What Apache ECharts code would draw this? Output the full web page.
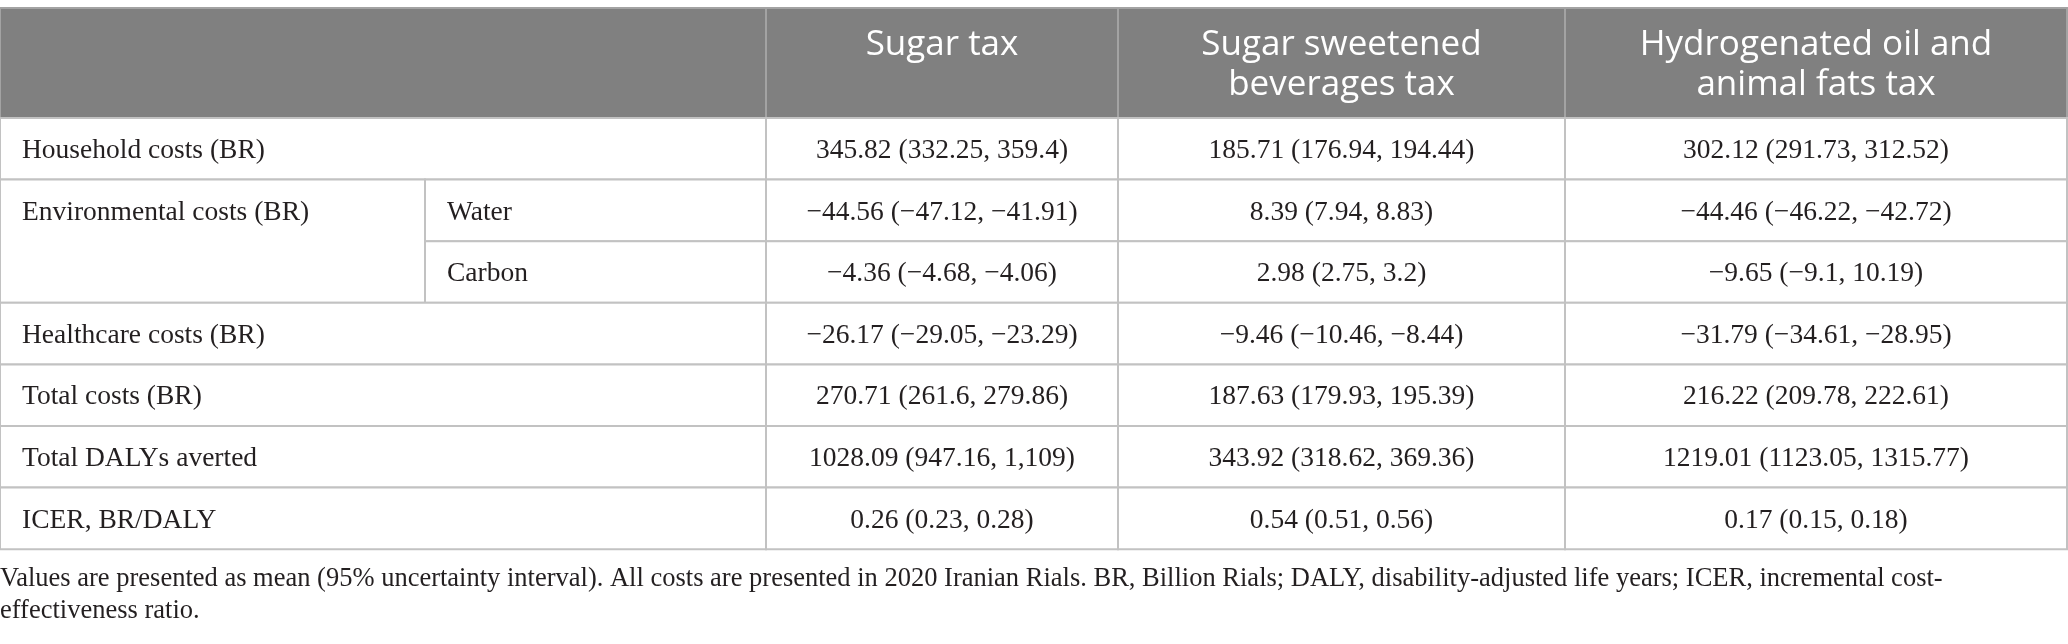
<!DOCTYPE html>
<html>
<head>
<meta charset="utf-8">
<script src="https://cdn.jsdelivr.net/npm/echarts@6/dist/echarts.min.js"></script>
<style>
  html, body { margin: 0; padding: 0; background: #fff; }
  #main { width: 2068px; height: 644px; }
</style>
</head>
<body>
<div id="main"></div>
<script>
// table content
var headers = ['Sugar tax', 'Sugar sweetened\nbeverages tax', 'Hydrogenated oil and\nanimal fats tax'];
var rowLabels = ['Household costs (BR)', 'Environmental costs (BR)', '', 'Healthcare costs (BR)', 'Total costs (BR)', 'Total DALYs averted', 'ICER, BR/DALY'];
var subLabels = ['', 'Water', 'Carbon', '', '', '', ''];
var sugarTax = ['345.82 (332.25, 359.4)', '\u221244.56 (\u221247.12, \u221241.91)', '\u22124.36 (\u22124.68, \u22124.06)', '\u221226.17 (\u221229.05, \u221223.29)', '270.71 (261.6, 279.86)', '1028.09 (947.16, 1,109)', '0.26 (0.23, 0.28)'];
var ssbTax = ['185.71 (176.94, 194.44)', '8.39 (7.94, 8.83)', '2.98 (2.75, 3.2)', '\u22129.46 (\u221210.46, \u22128.44)', '187.63 (179.93, 195.39)', '343.92 (318.62, 369.36)', '0.54 (0.51, 0.56)'];
var oilFatTax = ['302.12 (291.73, 312.52)', '\u221244.46 (\u221246.22, \u221242.72)', '\u22129.65 (\u22129.1, 10.19)', '\u221231.79 (\u221234.61, \u221228.95)', '216.22 (209.78, 222.61)', '1219.01 (1123.05, 1315.77)', '0.17 (0.15, 0.18)'];
var footnote = 'Values are presented as mean (95% uncertainty interval). All costs are presented in 2020 Iranian Rials. BR, Billion Rials; DALY, disability-adjusted life years; ICER, incremental cost-\neffectiveness ratio.';

// layout (table units = pixels of the axis range)
var colEdges = [0, 425, 766, 1118, 1565, 2067];
var headTop = 8, headBottom = 118, rowH = 61.6;
function rowTop(i) { return headBottom + i * rowH; }

var valueCols = [sugarTax, ssbTax, oilFatTax];
var cells = [];
// header
cells.push({ x0: colEdges[0], x1: colEdges[2], y0: headTop, y1: headBottom, text: '', kind: 'head' });
headers.forEach(function (h, j) {
  cells.push({ x0: colEdges[j + 2], x1: colEdges[j + 3], y0: headTop, y1: headBottom, text: h, kind: 'head' });
});
// body
rowLabels.forEach(function (lab, i) {
  if (subLabels[i] === '') {
    cells.push({ x0: colEdges[0], x1: colEdges[2], y0: rowTop(i), y1: rowTop(i + 1), text: lab, kind: 'label' });
  } else {
    if (lab !== '') {
      // merged label over the sub rows
      var span = 1;
      while (i + span < rowLabels.length && rowLabels[i + span] === '' && subLabels[i + span] !== '') span++;
      cells.push({ x0: colEdges[0], x1: colEdges[1], y0: rowTop(i), y1: rowTop(i + span), text: lab, kind: 'label', textRowBottom: rowTop(i + 1) });
    }
    cells.push({ x0: colEdges[1], x1: colEdges[2], y0: rowTop(i), y1: rowTop(i + 1), text: subLabels[i], kind: 'label' });
  }
  valueCols.forEach(function (col, j) {
    cells.push({ x0: colEdges[j + 2], x1: colEdges[j + 3], y0: rowTop(i), y1: rowTop(i + 1), text: col[i], kind: 'value' });
  });
});

var chart = echarts.init(document.getElementById('main'));

chart.setOption({
  animation: false,
  grid: { left: 0, right: 0, top: 0, bottom: 0 },
  xAxis: { type: 'value', min: 0, max: 2068, show: false },
  yAxis: { type: 'value', min: 0, max: 644, inverse: true, show: false },
  series: [{
    type: 'custom',
    clip: false,
    data: cells.map(function (c) { return [c.x0, c.x1, c.y0, c.y1]; }),
    renderItem: function (params, api) {
      var c = cells[params.dataIndex];
      var p0 = api.coord([api.value(0), api.value(2)]);
      var p1 = api.coord([api.value(1), api.value(3)]);
      var isHead = c.kind === 'head';
      var children = [{
        type: 'rect',
        shape: { x: p0[0], y: p0[1], width: p1[0] - p0[0], height: p1[1] - p0[1] },
        style: { fill: isHead ? '#808080' : '#fff', stroke: isHead ? '#a3a3a3' : '#c2c2c2', lineWidth: 2 }
      }];
      if (c.text) {
        var tx, ty, align, vAlign, font, lh;
        if (isHead) {
          tx = (p0[0] + p1[0]) / 2; ty = p0[1] + 17; align = 'center'; vAlign = 'top';
          font = '35px "Open Sans"'; lh = 40;
        } else {
          var bottom = c.textRowBottom ? api.coord([0, c.textRowBottom])[1] : p1[1];
          ty = (p0[1] + bottom) / 2 + 2; vAlign = 'middle'; lh = 30;
          font = '27.5px "Liberation Serif"';
          if (c.kind === 'label') { tx = p0[0] + 22; align = 'left'; }
          else { tx = (p0[0] + p1[0]) / 2; align = 'center'; }
        }
        children.push({
          type: 'text',
          x: tx, y: ty,
          style: {
            text: c.text, font: font, fill: isHead ? '#fff' : '#231f20',
            align: align, verticalAlign: vAlign, textAlign: align, textVerticalAlign: vAlign,
            lineHeight: lh
          }
        });
      }
      return { type: 'group', children: children };
    }
  }],
  graphic: [{
    type: 'text',
    left: 0,
    top: 563,
    style: { text: footnote, font: '26.5px "Liberation Serif"', fill: '#231f20', lineHeight: 32 }
  }]
});
</script>
</body>
</html>
